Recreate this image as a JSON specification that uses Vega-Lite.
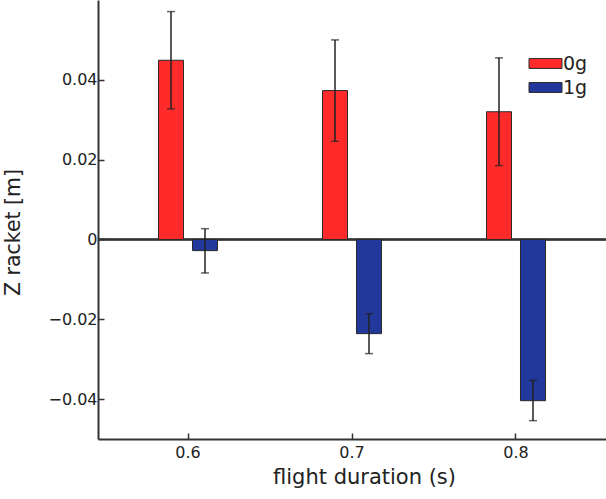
{
  "$schema": "https://vega.github.io/schema/vega-lite/v6.json",
  "width": 508,
  "height": 439,
  "autosize": {"type": "none"},
  "padding": {"left": 98, "top": 0, "right": 0, "bottom": 60},
  "background": "white",
  "config": {
    "view": {"stroke": null},
    "font": "DejaVu Sans",
    "axis": {"grid": false, "domainColor": "#333333", "tickColor": "#333333", "labelColor": "#222222", "titleColor": "#222222", "titleFontWeight": "normal", "domainWidth": 2, "tickWidth": 1.5}
  },
  "data": {
    "values": [
      {"duration": 0.6, "group": "0g", "mean": 0.0449, "lo": 0.0327, "hi": 0.0571},
      {"duration": 0.6, "group": "1g", "mean": -0.0028, "lo": -0.0084, "hi": 0.0027},
      {"duration": 0.7, "group": "0g", "mean": 0.0373, "lo": 0.0246, "hi": 0.0500},
      {"duration": 0.7, "group": "1g", "mean": -0.0236, "lo": -0.0286, "hi": -0.0186},
      {"duration": 0.8, "group": "0g", "mean": 0.0320, "lo": 0.0185, "hi": 0.0455},
      {"duration": 0.8, "group": "1g", "mean": -0.0404, "lo": -0.0454, "hi": -0.0353}
    ]
  },
  "encoding": {
    "x": {
      "field": "duration", "type": "ordinal",
      "scale": {"type": "band", "domain": [0.6, 0.7, 0.8], "paddingInner": 0.5854, "paddingOuter": 0.3415},
      "axis": {"labelAngle": 0, "title": "flight duration (s)", "labelFontSize": 16, "titleFontSize": 21, "tickSize": -6, "labelPadding": 11, "titlePadding": 6, "titleX": 266, "domainWidth": 2}
    },
    "xOffset": {"field": "group", "type": "nominal", "scale": {"domain": ["0g", "1g"], "paddingInner": 0, "paddingOuter": 0}}
  },
  "layer": [
    {
      "mark": {"type": "rule", "color": "#333333", "strokeWidth": 1.5},
      "encoding": {"y": {"datum": 0}, "x": null, "xOffset": null}
    },
    {
      "mark": {"type": "bar", "width": 25, "stroke": "#2a2a2a", "strokeWidth": 1},
      "encoding": {
        "y": {
          "field": "mean", "type": "quantitative",
          "scale": {"domain": [-0.05, 0.06], "nice": false},
          "axis": {"values": [-0.04, -0.02, 0, 0.02, 0.04], "format": "~g", "title": "Z racket [m]", "labelFontSize": 16, "titleFontSize": 20.5, "tickSize": -6, "labelPadding": 7, "titleX": -79, "titleY": 232, "titleAngle": -90, "titleBaseline": "alphabetic", "titleAlign": "center"}
        },
        "y2": {"datum": 0},
        "color": {
          "field": "group", "type": "nominal",
          "scale": {"domain": ["0g", "1g"], "range": ["#ff2a2a", "#22389a"]},
          "legend": {"title": null, "orient": "none", "legendX": 438, "legendY": 54, "padding": 0, "symbolType": "M-2,-0.6H2V0.6H-2Z", "symbolSize": 272, "symbolStrokeColor": "#2a2a2a", "symbolStrokeWidth": 1, "symbolOpacity": 1, "labelFontSize": 19, "labelColor": "#222222", "labelOffset": 8, "rowPadding": 4}
        }
      }
    },
    {
      "mark": {"type": "rule", "color": "#222222", "strokeWidth": 1.5},
      "encoding": {"y": {"field": "lo", "type": "quantitative"}, "y2": {"field": "hi"}}
    },
    {
      "mark": {"type": "tick", "orient": "horizontal", "size": 8, "thickness": 1.5, "color": "#222222"},
      "encoding": {"y": {"field": "lo", "type": "quantitative"}}
    },
    {
      "mark": {"type": "tick", "orient": "horizontal", "size": 8, "thickness": 1.5, "color": "#222222"},
      "encoding": {"y": {"field": "hi", "type": "quantitative"}}
    }
  ]
}
